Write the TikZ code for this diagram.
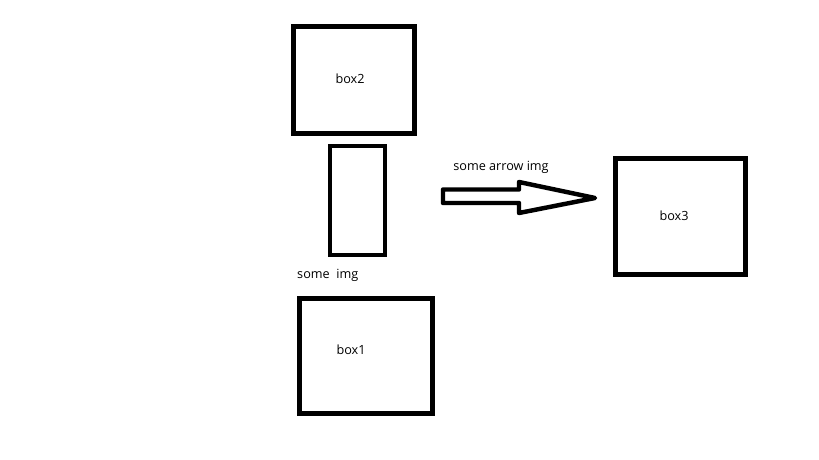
\documentclass[tikz,border=0pt]{standalone}
\usepackage{fontspec}
\setmainfont{Open Sans}
\tikzset{
 frame/.style={draw=black, line width=3.8pt},
 lbl/.style={font=\fontsize{10.8}{13}\selectfont, inner sep=0pt},
}
\begin{document}
\begin{tikzpicture}[x=0.03cm, y=-0.03cm]
    \useasboundingbox (0,0) rectangle (819,460);

    % boxes
    \draw[frame] (293.5,26.5) rectangle (414.5,133.5);
    \node[lbl] (box2) at (350,79) {box2};

    \draw[frame] (330,146) rectangle (385,255);
    \node[lbl, anchor=west] (img) at (297,275) {some~ img};

    \draw[frame] (299.5,298.5) rectangle (432.5,413.5);
    \node[lbl] (box1) at (351,349.5) {box1};

    \draw[frame] (615.5,158.5) rectangle (745.5,274.5);
    \node[lbl] (box3) at (674,215.5) {box3};

    % hollow arrow
    \node[lbl] (arrowtext) at (501,167) {some arrow img};
    \draw[frame, line join=round] (443,189.5) -- (519,189.5) -- (519,182) -- (595,198)
        -- (519,213) -- (519,203) -- (443,203) -- cycle;
\end{tikzpicture}
\end{document}
